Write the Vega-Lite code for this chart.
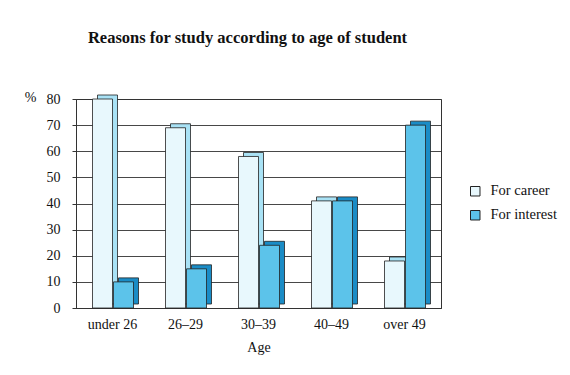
{
  "$schema": "https://vega.github.io/schema/vega-lite/v6.json",
  "autosize": "none",
  "width": 365,
  "height": 209,
  "padding": {"left": 76, "top": 99, "right": 129, "bottom": 67},
  "background": "white",
  "title": {
    "text": "Reasons for study according to age of student",
    "font": "Liberation Serif",
    "fontSize": 16.5,
    "fontWeight": "bold",
    "color": "#111",
    "anchor": "middle",
    "dx": -11,
    "offset": 44
  },
  "config": {
    "font": "Liberation Serif",
    "view": {"stroke": "#333", "strokeWidth": 1}
  },
  "data": {
    "values": [
      {"Age": "under 26", "Reason": "For career", "Value": 80},
      {"Age": "under 26", "Reason": "For interest", "Value": 10},
      {"Age": "26–29", "Reason": "For career", "Value": 69},
      {"Age": "26–29", "Reason": "For interest", "Value": 15},
      {"Age": "30–39", "Reason": "For career", "Value": 58},
      {"Age": "30–39", "Reason": "For interest", "Value": 24},
      {"Age": "40–49", "Reason": "For career", "Value": 41},
      {"Age": "40–49", "Reason": "For interest", "Value": 41},
      {"Age": "over 49", "Reason": "For career", "Value": 18},
      {"Age": "over 49", "Reason": "For interest", "Value": 70}
    ]
  },
  "encoding": {
    "x": {
      "field": "Age",
      "type": "nominal",
      "sort": ["under 26", "26–29", "30–39", "40–49", "over 49"],
      "scale": {"paddingInner": 0, "paddingOuter": 0},
      "axis": {
        "title": "Age",
        "titleFont": "Liberation Serif",
        "titleFontSize": 14,
        "titleFontWeight": "normal",
        "titleColor": "#111",
        "titlePadding": 9,
        "labelAngle": 0,
        "labelFont": "Liberation Serif",
        "labelFontSize": 14,
        "labelColor": "#111",
        "labelPadding": 9,
        "domainColor": "#333",
        "tickColor": "#333",
        "ticks": false,
        "grid": false
      }
    },
    "y": {
      "field": "Value",
      "type": "quantitative",
      "scale": {"domain": [0, 80], "nice": false},
      "axis": {
        "title": "%",
        "titleAngle": 0,
        "titleX": -46,
        "titleY": 5,
        "titleFont": "Liberation Serif",
        "titleFontSize": 14,
        "titleFontWeight": "normal",
        "titleColor": "#111",
        "values": [0, 10, 20, 30, 40, 50, 60, 70, 80],
        "labelFont": "Liberation Serif",
        "labelFontSize": 14,
        "labelColor": "#111",
        "labelPadding": 12,
        "tickSize": 4,
        "tickColor": "#333",
        "domainColor": "#333",
        "gridColor": "#333",
        "gridWidth": 1,
        "gridOpacity": 0.9
      }
    }
  },
  "layer": [
    {
      "transform": [{"filter": "datum.Reason === 'For career'"}],
      "mark": {"type": "bar", "width": 20, "xOffset": -5, "yOffset": -4, "y2Offset": -4, "color": "#a9e2f5", "stroke": "#222", "strokeWidth": 0.8},
      "encoding": {}
    },
    {
      "transform": [{"filter": "datum.Reason === 'For interest'"}],
      "mark": {"type": "bar", "width": 20, "xOffset": 16, "yOffset": -4, "y2Offset": -4, "color": "#1a8cc6", "stroke": "#222", "strokeWidth": 0.8},
      "encoding": {}
    },
    {
      "transform": [{"filter": "datum.Reason === 'For career'"}],
      "mark": {"type": "bar", "width": 20, "xOffset": -10, "stroke": "#222", "strokeWidth": 0.8, "opacity": 1},
      "encoding": {
        "color": {
          "field": "Reason",
          "type": "nominal",
          "scale": {"domain": ["For career", "For interest"], "range": ["#e8f8fd", "#5cc3ea"]},
          "legend": {
            "title": null,
            "orient": "none",
            "legendX": 392,
            "legendY": 85,
            "symbolType": "square",
            "symbolSize": 90,
            "symbolStrokeColor": "#222",
            "symbolStrokeWidth": 1,
            "labelFont": "Liberation Serif",
            "labelFontSize": 14.5,
            "labelColor": "#111",
            "labelOffset": 8,
            "rowPadding": 9
          }
        }
      }
    },
    {
      "transform": [{"filter": "datum.Reason === 'For interest'"}],
      "mark": {"type": "bar", "width": 20, "xOffset": 11, "stroke": "#222", "strokeWidth": 0.8, "opacity": 1},
      "encoding": {
        "color": {"field": "Reason", "type": "nominal"}
      }
    }
  ]
}
